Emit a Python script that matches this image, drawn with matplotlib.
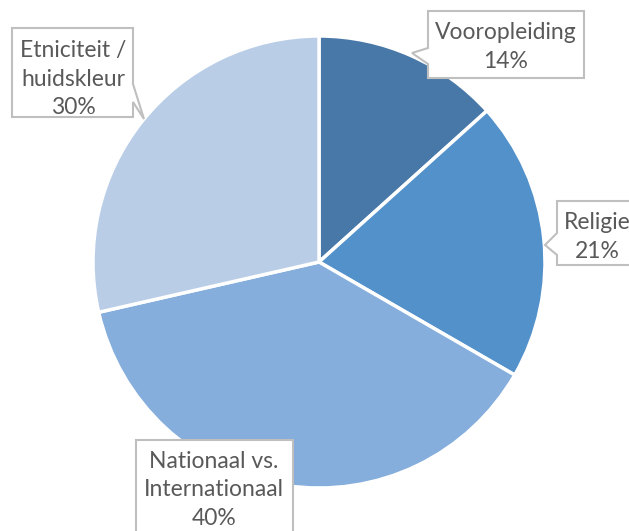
import matplotlib
matplotlib.use("Agg")
import matplotlib.pyplot as plt
from matplotlib.patches import Polygon

categories = ["Vooropleiding", "Religie", "Nationaal vs.\nInternationaal", "Etniciteit /\nhuidskleur"]
values = [14, 21, 40, 30]
colors = ["#4878A8", "#5391CB", "#85AEDD", "#B9CDE7"]

W, H = 629, 531
fig = plt.figure(figsize=(W / 100, H / 100), dpi=100)
fig.patch.set_facecolor("white")

cx, cy, r = 319, 262, 226
ax = fig.add_axes([(cx - r) / W, (H - cy - r) / H, 2 * r / W, 2 * r / H])
ax.pie(values, colors=colors, startangle=90, counterclock=False, radius=1,
       wedgeprops=dict(edgecolor="white", linewidth=2.5))
ax.set_xlim(-1, 1)
ax.set_ylim(-1, 1)
ax.set_aspect("auto")
ax.axis("off")


def px(x, y):
    return (x / W, 1 - y / H)


def callout(pts):
    poly = Polygon([px(x, y) for x, y in pts], closed=True, transform=fig.transFigure,
                   facecolor="white", edgecolor="#BFBFBF", linewidth=1.5, zorder=5)
    fig.patches.append(poly)


# label boxes (pixel layout)
callout([(428, 11), (584, 11), (584, 78), (428, 78), (428, 64), (412, 53), (428, 48)])
callout([(12, 28), (133, 28), (133, 84), (144, 119), (133, 102), (133, 117), (12, 117)])
callout([(557, 201), (640, 201), (640, 265), (557, 265), (557, 255), (545, 245), (557, 233)])
callout([(136, 440), (293, 440), (293, 545), (136, 545)])

label_pos = [(506, 47), (597, 237), (214, 490), (73, 79)]
for cat, v, (x, y) in zip(categories, values, label_pos):
    fig.text(*px(x, y), f"{cat}\n{v}%", ha="center", va="center", ma="center",
             fontsize=16.5, color="#595959", family="Lato", linespacing=1.47, zorder=6)

fig.savefig("out.png", dpi=100)
